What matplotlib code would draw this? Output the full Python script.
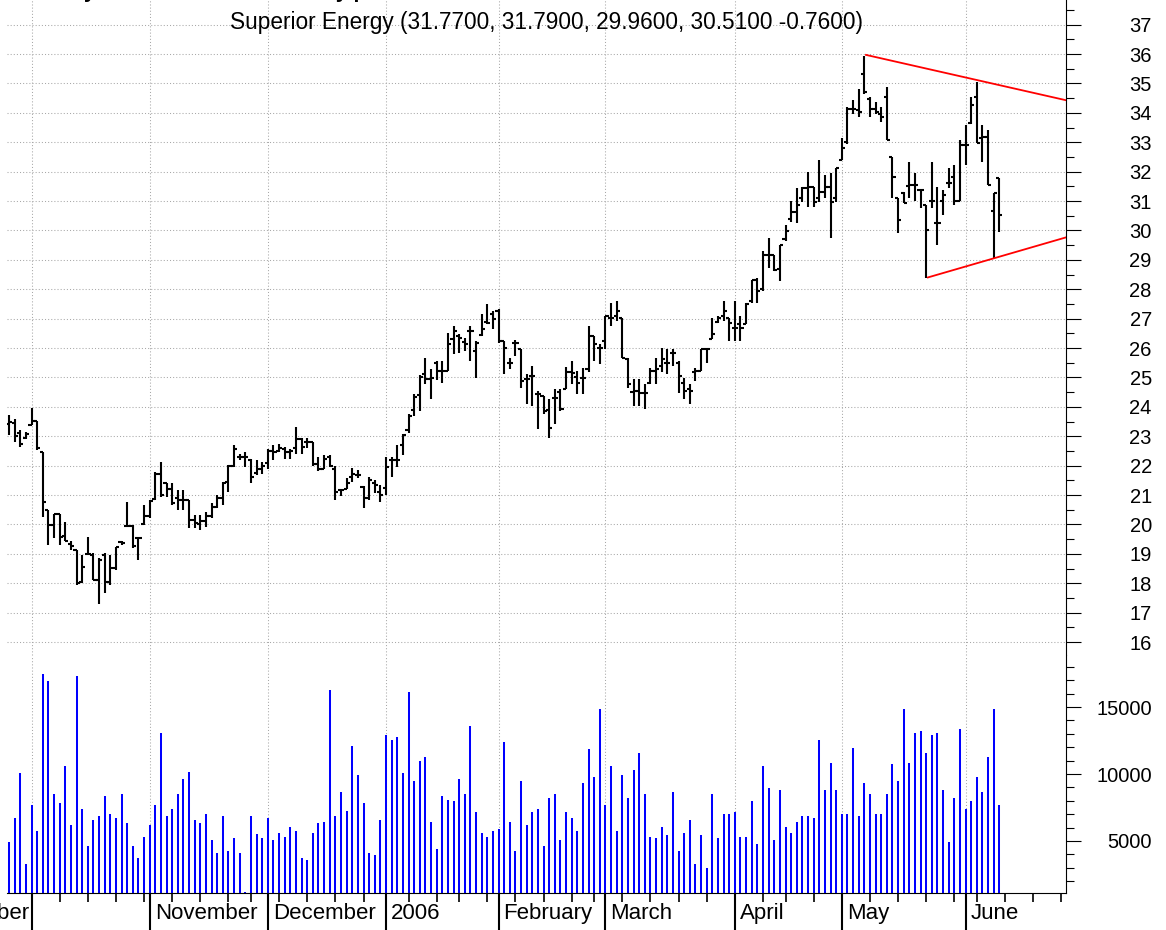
import numpy as np
import pandas as pd
import matplotlib
matplotlib.use('Agg')
import matplotlib.pyplot as plt

plt.rcParams['font.family'] = ['Liberation Sans', 'DejaVu Sans']

# chart texts
title = "Superior Energy (31.7700, 31.7900, 29.9600, 30.5100 -0.7600)"
header = "Daily Chart and Volume Study pattern"

# trading calendar (NYSE holidays inside the range)
first_day = '2005-09-27'
holidays = ['2005-11-24', '2005-12-26', '2006-01-02', '2006-01-16',
            '2006-02-20', '2006-04-14', '2006-05-29']
month_names = {10: 'October', 11: 'November', 12: 'December', 1: '2006',
               2: 'February', 3: 'March', 4: 'April', 5: 'May', 6: 'June'}

# daily bars
opens = [23.40, 23.45, 23.10, 22.95, 23.38, 23.51, 22.45, 20.49, 19.98, 20.34,
         19.60, 19.35, 19.13, 18.05, 19.00, 18.96, 18.11, 18.96, 18.05, 18.51,
         19.41, 19.95, 19.95, 19.55, 20.00, 20.30, 20.85, 21.73, 21.40, 21.20,
         20.90, 20.83, 20.83, 20.15, 20.00, 20.10, 20.30, 20.60, 20.90, 21.45,
         22.00, 22.30, 22.30, 22.20, 21.75, 21.90, 22.10, 22.50, 22.50, 22.55,
         22.45, 22.60, 22.90, 22.81, 22.81, 22.05, 21.90, 22.30, 21.90, 21.17,
         21.20, 21.60, 21.68, 21.28, 20.89, 21.40, 21.10, 21.23, 22.20, 22.20,
         22.70, 23.20, 23.90, 24.40, 25.10, 24.93, 25.50, 25.22, 25.22, 26.30,
         26.40, 26.20, 26.58, 25.90, 26.45, 26.90, 27.15, 27.26, 26.24, 25.50,
         26.18, 25.95, 24.93, 25.05, 24.42, 24.36, 23.90, 24.31, 24.50, 24.60,
         25.20, 25.00, 24.99, 25.30, 26.41, 26.01, 26.24, 27.03, 27.10, 27.03,
         25.61, 24.50, 24.54, 24.48, 24.80, 25.22, 25.40, 25.50, 25.84, 25.50,
         24.80, 24.60, 25.20, 25.22, 25.95, 26.30, 26.90, 27.10, 27.03, 26.69,
         26.80, 26.80, 27.60, 28.30, 28.00, 29.18, 29.18, 28.70, 29.70, 30.40,
         30.64, 31.10, 31.43, 31.49, 31.10, 31.32, 31.49, 31.10, 32.40, 33.00,
         34.14, 34.10, 35.32, 34.48, 34.14, 33.97, 34.54, 32.51, 31.10, 31.27,
         31.50, 31.55, 31.38, 30.87, 30.99, 30.25, 31.00, 31.61, 31.83, 31.00,
         32.90, 33.65, 34.54, 33.13, 33.18, 30.65, 31.77]
highs = [23.72, 23.57, 23.21, 23.15, 23.97, 23.51, 22.45, 20.49, 20.34, 20.34,
         20.09, 19.44, 19.13, 18.96, 19.58, 19.02, 18.85, 19.02, 18.96, 19.24,
         19.44, 20.77, 19.98, 19.58, 20.66, 20.83, 21.79, 22.13, 21.40, 21.40,
         21.17, 21.17, 20.83, 20.32, 20.32, 20.43, 20.72, 21.00, 21.45, 22.02,
         22.70, 22.41, 22.47, 22.24, 22.19, 22.13, 22.58, 22.70, 22.75, 22.64,
         22.58, 23.32, 22.95, 22.95, 22.81, 22.30, 22.36, 22.36, 22.00, 21.20,
         21.57, 21.93, 21.85, 21.30, 21.62, 21.50, 21.34, 22.30, 22.30, 22.70,
         23.09, 23.74, 24.45, 25.08, 25.67, 25.27, 25.56, 25.56, 26.52, 26.75,
         26.47, 26.35, 26.75, 26.24, 27.15, 27.49, 27.26, 27.32, 26.24, 25.67,
         26.26, 25.95, 25.10, 25.39, 24.53, 24.36, 24.25, 24.59, 24.59, 25.35,
         25.56, 25.22, 25.33, 26.75, 26.41, 26.12, 27.09, 27.54, 27.60, 27.03,
         25.67, 24.93, 24.93, 24.76, 25.33, 25.67, 26.01, 25.95, 25.95, 25.56,
         24.99, 24.76, 25.33, 25.95, 26.01, 27.03, 27.09, 27.60, 27.03, 27.60,
         27.09, 27.54, 28.33, 28.39, 29.30, 29.75, 29.18, 29.52, 30.20, 31.00,
         31.43, 31.49, 32.00, 31.49, 32.39, 31.88, 31.94, 32.13, 33.13, 34.20,
         34.42, 34.82, 35.94, 34.54, 34.37, 34.20, 34.87, 32.51, 31.10, 31.32,
         32.34, 31.94, 31.38, 30.87, 32.34, 31.49, 31.38, 32.11, 32.23, 33.07,
         33.58, 34.54, 35.04, 33.58, 33.41, 31.27, 31.79]
lows = [23.04, 22.81, 22.64, 22.92, 23.38, 22.53, 20.26, 19.30, 19.53, 19.30,
        19.44, 19.13, 17.94, 18.00, 18.96, 18.11, 17.28, 17.66, 17.94, 18.45,
        19.30, 19.92, 19.19, 18.79, 19.98, 20.21, 20.83, 20.94, 20.94, 20.66,
        20.49, 20.49, 19.87, 19.87, 19.81, 19.92, 20.21, 20.55, 20.66, 21.11,
        21.95, 22.19, 21.96, 21.40, 21.68, 21.73, 21.90, 22.19, 22.47, 22.24,
        22.24, 22.41, 22.40, 22.60, 22.00, 21.80, 21.90, 21.96, 20.83, 20.95,
        21.20, 21.45, 21.57, 20.55, 20.83, 21.06, 20.77, 21.00, 21.62, 21.95,
        22.36, 23.10, 23.70, 23.85, 24.76, 24.25, 24.90, 24.82, 25.22, 25.78,
        25.84, 25.90, 25.56, 24.99, 26.41, 26.81, 26.64, 26.18, 25.10, 25.27,
        25.73, 24.65, 24.08, 24.02, 23.23, 23.74, 22.94, 23.40, 23.85, 24.60,
        24.76, 24.42, 24.42, 25.20, 25.56, 25.44, 25.95, 26.75, 26.92, 25.67,
        24.65, 24.02, 24.02, 23.91, 24.76, 24.76, 25.20, 25.10, 25.39, 24.48,
        24.25, 24.08, 24.88, 25.22, 25.50, 26.29, 26.86, 26.92, 26.24, 26.24,
        26.24, 26.80, 27.54, 27.54, 27.94, 28.73, 28.62, 28.28, 29.64, 30.30,
        30.25, 30.98, 30.81, 30.81, 30.98, 31.10, 29.74, 30.98, 32.39, 32.95,
        33.97, 33.86, 34.65, 33.86, 33.97, 33.69, 33.07, 31.10, 29.92, 30.93,
        31.10, 30.99, 30.76, 28.37, 30.76, 29.52, 30.54, 31.44, 30.87, 30.99,
        32.23, 33.63, 32.96, 32.34, 31.55, 29.05, 29.96]
closes = [23.50, 23.00, 22.75, 23.06, 23.51, 22.60, 20.77, 19.98, 20.34, 19.58,
          19.44, 19.27, 18.00, 18.56, 19.00, 18.11, 18.80, 18.05, 18.51, 19.24,
          19.38, 19.95, 19.27, 19.55, 20.30, 20.80, 21.73, 21.00, 21.20, 20.72,
          20.83, 20.83, 20.15, 20.04, 20.10, 20.30, 20.60, 20.90, 21.40, 22.00,
          22.58, 22.30, 22.30, 21.60, 21.90, 22.00, 22.50, 22.45, 22.60, 22.45,
          22.50, 22.92, 22.64, 22.81, 22.05, 21.90, 22.24, 22.00, 21.10, 21.17,
          21.40, 21.73, 21.68, 20.89, 21.51, 21.34, 21.00, 21.96, 22.19, 22.19,
          23.05, 23.68, 24.35, 25.00, 24.93, 24.99, 25.22, 25.22, 26.13, 26.58,
          26.35, 26.13, 26.58, 26.18, 26.64, 26.86, 27.00, 26.24, 26.01, 25.50,
          26.18, 24.88, 24.93, 25.05, 24.42, 23.85, 23.28, 24.31, 23.91, 25.20,
          25.16, 24.80, 24.99, 26.41, 26.12, 26.01, 27.09, 27.03, 27.26, 25.67,
          24.76, 24.54, 24.48, 24.48, 25.22, 25.27, 25.61, 25.50, 25.84, 25.05,
          24.54, 24.54, 25.22, 25.95, 25.95, 26.46, 27.03, 27.26, 26.86, 26.69,
          26.69, 27.48, 28.33, 27.94, 29.18, 29.18, 28.64, 29.52, 29.98, 30.64,
          30.87, 31.43, 31.49, 30.98, 31.32, 31.49, 30.98, 32.13, 32.81, 34.14,
          34.14, 34.03, 34.70, 34.14, 34.03, 33.86, 33.07, 31.83, 30.37, 30.93,
          31.55, 31.55, 31.38, 30.03, 30.99, 30.25, 31.21, 31.61, 30.99, 32.90,
          32.90, 34.25, 32.96, 33.18, 31.55, 31.27, 30.51]
volume = [4950, 6740, 10050, 3280, 7690, 5750, 17460, 16940, 8510, 7810,
          10600, 6170, 17340, 7390, 4650, 6570, 6870, 8380, 7020, 6720,
          8510, 6320, 4650, 3710, 5320, 6170, 7690, 13080, 6870, 7410,
          8510, 9600, 10170, 6570, 6320, 7020, 5070, 4130, 6870, 4250,
          5200, 4130, 1220, 6870, 5500, 5220, 6720, 5070, 5620, 5320,
          6020, 5770, 3710, 3580, 5620, 6320, 6440, 16270, 6870, 8660,
          7260, 12090, 9900, 7810, 4130, 3960, 6570, 12910, 12540, 12790,
          10050, 16090, 9480, 10990, 11270, 6440, 4380, 8360, 8080, 7960,
          9600, 8510, 13610, 7140, 5620, 5320, 5750, 5870, 12360, 6440,
          4250, 9480, 6170, 7140, 7410, 4650, 8230, 8510, 5070, 7140,
          6720, 5750, 9330, 11840, 9750, 14850, 7690, 10600, 5750, 9900,
          8230, 10300, 11540, 8510, 5320, 5200, 6020, 5470, 8660, 4250,
          5620, 6570, 3260, 5470, 2990, 8510, 5200, 6990, 6990, 7140,
          5320, 5320, 7960, 4780, 10600, 8930, 5070, 8810, 6020, 5620,
          6440, 6870, 6870, 6720, 12540, 8810, 10850, 8810, 6990, 6990,
          11970, 6870, 9330, 8510, 6990, 6990, 8510, 10720, 9480, 14850,
          10850, 13040, 13210, 11540, 12910, 13040, 8810, 4950, 8230, 13330,
          7390, 7960, 9750, 8660, 11270, 14850, 7690]

# triangle trendlines (bar index, price)
upper_x = [152.3, 187.8]
upper_y = [35.97, 34.43]
lower_x = [163.3, 187.8]
lower_y = [28.40, 29.76]

n = len(closes)
x = np.arange(n)

# calendar positions: month starts and week starts, also past the last bar
bday = pd.offsets.CustomBusinessDay(holidays=holidays)
dates = pd.date_range(first_day, periods=n + 15, freq=bday)
month_start = [i for i in range(1, len(dates)) if dates[i].month != dates[i - 1].month]
week_start = [i for i in range(1, len(dates)) if dates[i].weekday() < dates[i - 1].weekday()]

W, H = 1166, 930
fig = plt.figure(figsize=(W / 100, H / 100), dpi=100)
left = 7 / W
width = (1066 - 7) / W
ax1 = fig.add_axes([left, 1 - 655 / H, width, 655 / H])
ax2 = fig.add_axes([left, 1 - 893 / H, width, (893 - 655) / H])

xmin, xmax = -0.36, 187.85
grid_kw = dict(color='#a8a8a8', linestyle=(0, (1, 2)), linewidth=0.75)

# ---- price panel
ax1.vlines(x, lows, highs, color='black', linewidth=1.5)
ax1.hlines(opens, x - 0.55, x, color='black', linewidth=1.5)
ax1.hlines(closes, x, x + 0.55, color='black', linewidth=1.5)
ax1.plot(upper_x, upper_y, color='red', linewidth=1.3, clip_on=False)
ax1.plot(lower_x, lower_y, color='red', linewidth=1.3, clip_on=False)

ax1.set_xlim(xmin, xmax)
ax1.set_ylim(15.558, 37.837)
for s in ['left', 'top', 'bottom']:
    ax1.spines[s].set_visible(False)
ax1.spines['right'].set_linewidth(0.8)
ax1.yaxis.tick_right()
ax1.set_yticks(np.arange(16, 38))
ax1.set_yticks(np.arange(16.5, 37.6, 1.0), minor=True)
ax1.set_xticks(month_start)
ax1.set_xticklabels([])
ax1.tick_params(axis='x', length=0)
ax1.tick_params(axis='y', which='major', length=10.8, width=0.8, pad=51, labelsize=14.5)
ax1.tick_params(axis='y', which='minor', length=5.8, width=0.8)
for lab in ax1.get_yticklabels():
    lab.set_horizontalalignment('right')
ax1.grid(True, axis='both', which='major', **grid_kw)

# ---- volume panel
vol_bottom = 1119
ax2.vlines(x, vol_bottom, volume, color='#0000ff', linewidth=1.45)
ax2.set_xlim(xmin, xmax)
ax2.set_ylim(vol_bottom, 18881)
for s in ['left', 'top']:
    ax2.spines[s].set_visible(False)
ax2.spines['right'].set_linewidth(0.8)
ax2.spines['bottom'].set_linewidth(0.8)
ax2.yaxis.tick_right()
ax2.set_yticks([5000, 10000, 15000])
ax2.set_yticklabels(['5000', '10000', '15000'])
ax2.set_yticks(np.arange(2000, 18001, 1000), minor=True)
ax2.tick_params(axis='y', which='major', length=10.8, width=0.8, pad=51, labelsize=14.5)
ax2.tick_params(axis='y', which='minor', length=5.8, width=0.8)
for lab in ax2.get_yticklabels():
    lab.set_horizontalalignment('right')
ax2.set_xticks(month_start)
ax2.set_xticklabels([])
ax2.set_xticks(week_start, minor=True)
ax2.tick_params(axis='x', which='major', length=30, width=1.5)
ax2.tick_params(axis='x', which='minor', length=6.5, width=1.2)
ax2.grid(True, axis='x', which='major', **grid_kw)

# month names right of the month separators
for i in month_start:
    if i > xmax:
        continue
    name = month_names[dates[i].month]
    if dates[i].month == 10:
        ax2.annotate(name, xy=(i, 0), xycoords=('data', 'axes fraction'),
                     xytext=(-1.5, -14.5), textcoords='offset points',
                     ha='right', va='center', fontsize=16, annotation_clip=False)
    else:
        ax2.annotate(name, xy=(i, 0), xycoords=('data', 'axes fraction'),
                     xytext=(3.6, -14.5), textcoords='offset points',
                     ha='left', va='center', fontsize=16, annotation_clip=False)

fig.text(546 / W, 1 - 23 / H, title, ha='center', va='center', fontsize=16.3)
# bold heading sits above the top edge, only its lowest part shows
fig.text(45 / W, 1 + 1.5 / H, header, ha='left', va='baseline',
         fontsize=15.3, fontweight='bold')

fig.savefig('out.png', dpi=100)
